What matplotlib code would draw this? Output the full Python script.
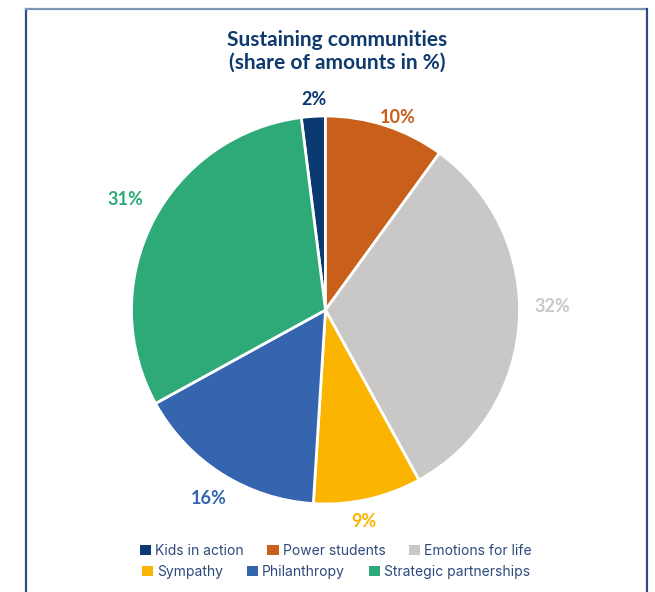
import matplotlib
matplotlib.use("Agg")
import matplotlib.pyplot as plt
import numpy as np
from matplotlib.patches import Patch
from matplotlib.lines import Line2D

categories = ["Kids in action", "Power students", "Emotions for life",
              "Sympathy", "Philanthropy", "Strategic partnerships"]
values = [2, 10, 32, 9, 16, 31]
colors = ["#0b3a73", "#c85f1a", "#c9c8c7", "#fbb500", "#3565ae", "#2eaa78"]
label_colors = ["#0b3a73", "#c85f1a", "#c9c8c7", "#fbb500", "#3565ae", "#2eaa78"]
title = "Sustaining communities\n(share of amounts in %)"
# small label nudges in pixels (x right, y down)
label_nudge = [(2, 6), (5, 14), (10, -17), (-9, -1), (0, 5), (-6, -12)]

W, H = 655, 592
fig = plt.figure(figsize=(W / 100, H / 100), dpi=100)
fig.patch.set_facecolor("white")

# frame lines
fig.add_artist(Line2D([25.5 / W, 25.5 / W], [0, 1 - 8.5 / H], transform=fig.transFigure,
                      color="#2a4d8a", lw=1.6))
fig.add_artist(Line2D([25.5 / W, 646 / W], [1 - 8.5 / H, 1 - 8.5 / H], transform=fig.transFigure,
                      color="#7d95b5", lw=1.6))
fig.add_artist(Line2D([646.5 / W, 646.5 / W], [0, 1 - 8.5 / H], transform=fig.transFigure,
                      color="#2a4d8a", lw=1.6))

cx, cy, r = 325.5, 310, 194
ax = fig.add_axes([(cx - r) / W, (H - cy - r) / H, 2 * r / W, 2 * r / H])
start = 90 + values[0] / sum(values) * 360
wedges, texts = ax.pie(values, colors=colors, startangle=start, counterclock=False,
                       labels=[f"{v}%" for v in values], labeldistance=1.12,
                       wedgeprops=dict(edgecolor="white", linewidth=2),
                       textprops=dict(fontsize=13, fontweight="bold", family="Lato"))
for t, c, (dx, dy) in zip(texts, label_colors, label_nudge):
    t.set_color(c)
    t.set_horizontalalignment("center")
    t.set_verticalalignment("center")
    x, y = t.get_position()
    t.set_position((x + dx / r, y - dy / r))
ax.set_aspect("equal")
ax.set_xlim(-1, 1)
ax.set_ylim(-1, 1)

fig.text(337 / W, 1 - 51 / H, title, ha="center", va="center", fontsize=15,
         fontweight="bold", color="#0e3a6e", family="Lato", linespacing=1.15)

handles = [Patch(facecolor=c, edgecolor="none") for c in colors]
leg_kw = dict(frameon=False, ncol=3, handlelength=0.8, handleheight=0.8,
              handletextpad=0.3, columnspacing=1.7, borderaxespad=0, borderpad=0,
              prop=dict(family="Inter", size=10))
leg1 = fig.legend(handles[:3], categories[:3], loc="center",
                  bbox_to_anchor=(336 / W, 1 - 551 / H), **leg_kw)
leg2 = fig.legend(handles[3:], categories[3:], loc="center",
                  bbox_to_anchor=(336 / W, 1 - 572 / H), **leg_kw)
for lg in (leg1, leg2):
    for t in lg.get_texts():
        t.set_color("#2e4a7d")

fig.savefig("out.png", dpi=100, facecolor="white")
